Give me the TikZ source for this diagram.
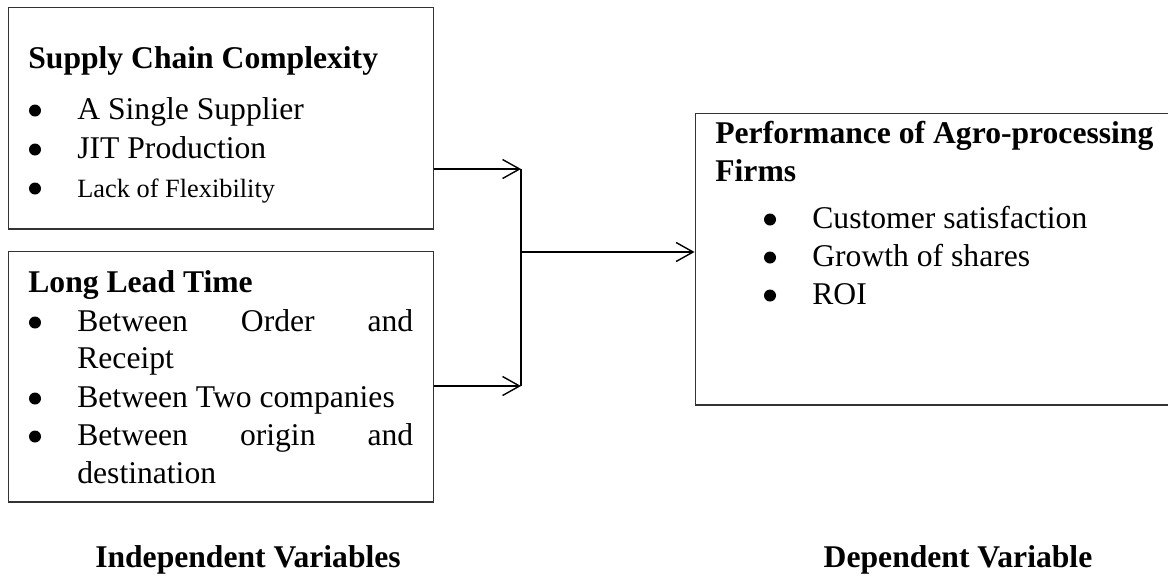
\documentclass[tikz,border=0pt]{standalone}
\usepackage{fontspec}
\setmainfont{Liberation Serif}
\usetikzlibrary{arrows.meta}
\begin{document}
\begin{tikzpicture}[x=0.02cm, y=-0.02cm,
  every node/.style={inner sep=0pt, font=\fontsize{18}{22}\selectfont},
  box/.style={draw=black!80, line width=0.6pt, rectangle},
  txt/.style={anchor=base west},
  head/.style={anchor=base west, font=\fontsize{18}{22}\selectfont\bfseries},
  arr/.style={-{Straight Barb[length=0.34cm, width=0.38cm, line width=0.8pt]}, line width=0.8pt}]
  % frame
  \useasboundingbox (0,0) rectangle (1168,576);
  \clip (0,0) rectangle (1168,576);

  % boxes
  \node[box, minimum width=8.52cm, minimum height=4.44cm] (scc) at (221,118) {};
  \node[box, minimum width=8.52cm, minimum height=5.02cm] (llt) at (221,376.5) {};
  \node[box, minimum width=9.7cm, minimum height=5.84cm] (perf) at (937.5,259) {};

  % headings
  \node[head] (scc-h) at (28,68) {Supply Chain Complexity};
  \node[head] (llt-h) at (28,292) {Long Lead Time};
  \node[head] (perf-h) at (715,143) {Performance of Agro-processing};
  \node[head] (perf-h2) at (715,181) {Firms};

  % items
  \foreach \y/\t [count=\i] in {119/A Single Supplier, 158/JIT Production}
    \node[txt] (scc-\i) at (77,\y) {\t};
  \node[txt, font=\fontsize{15}{18}\selectfont] (scc-3) at (77,197) {Lack of Flexibility};

  \node[txt] (llt-1) at (77,331) {\makebox[6.72cm][s]{Between Order and}};
  \node[txt] (llt-1b) at (77,368) {Receipt};
  \node[txt] (llt-2) at (77,407) {Between Two companies};
  \node[txt] (llt-3) at (77,445) {\makebox[6.72cm][s]{Between origin and}};
  \node[txt] (llt-3b) at (77,483) {destination};

  \foreach \y/\t [count=\i] in {228/Customer satisfaction, 266/Growth of shares, 304/ROI}
    \node[txt] (perf-\i) at (812,\y) {\t};

  % bullets
  \foreach \x/\y in {35/119, 35/158, 35/197, 35/331, 35/407, 35/445, 770/228, 770/266, 770/304}
    \fill (\x,\y-8.5) circle (0.12cm);

  % connectors
  \coordinate (j1) at (521,169);
  \coordinate (j2) at (521,386);
  \coordinate (j0) at (521,252);
  \draw[arr] (scc.east |- j1) -- (j1);
  \draw[arr] (llt.east |- j2) -- (j2);
  \draw[line width=0.8pt] (j1) -- (j2);
  \draw[arr] (j0) -- (j0 -| perf.west);

  % labels
  \node[head, anchor=base] (iv) at (248,567) {Independent Variables};
  \node[head, anchor=base] (dv) at (958,567) {Dependent Variable};
\end{tikzpicture}
\end{document}
